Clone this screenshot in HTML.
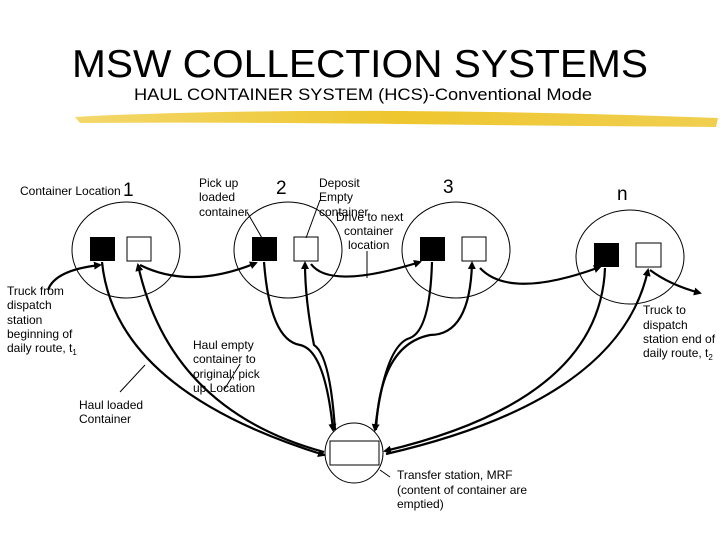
<!DOCTYPE html>
<html><head><style>
body{margin:0;background:#fff;}
svg text{font-family:"Liberation Sans",sans-serif;fill:#000;}
</style></head><body>
<svg width="720" height="540" viewBox="0 0 720 540" xmlns="http://www.w3.org/2000/svg">
<defs>
<marker id="a" markerWidth="8" markerHeight="8" refX="6" refY="4" orient="auto" markerUnits="userSpaceOnUse"><path d="M0,0 L8,4 L0,8 z" fill="#000"/></marker>
<linearGradient id="g" x1="0" x2="1"><stop offset="0" stop-color="#f3d76a"/><stop offset="0.5" stop-color="#eec62e"/><stop offset="1" stop-color="#f0cf50"/></linearGradient>
</defs>
<text x="72" y="77" font-size="39" textLength="576" lengthAdjust="spacingAndGlyphs">MSW  COLLECTION SYSTEMS</text>
<text x="134" y="100" font-size="17" textLength="458" lengthAdjust="spacingAndGlyphs">HAUL  CONTAINER SYSTEM (HCS)-Conventional Mode</text>
<path d="M75,117 Q200,110 400,111 Q560,112 718,118 L716,127 Q560,126 400,124 Q220,122 80,123 z" fill="url(#g)"/>
<g fill="none" stroke="#000" stroke-width="1">
<ellipse cx="126" cy="250" rx="54" ry="48"/>
<ellipse cx="288" cy="250" rx="54" ry="48"/>
<ellipse cx="456" cy="250" rx="54" ry="48"/>
<ellipse cx="630" cy="257" rx="54" ry="47"/>
<ellipse cx="354" cy="453" rx="29" ry="30"/>
<rect x="330" y="441" width="49" height="24"/>
<rect x="127" y="237" width="24" height="24"/>
<rect x="294" y="237" width="24" height="24"/>
<rect x="462" y="237" width="24" height="24"/>
<rect x="636" y="243" width="25" height="24"/>
<line x1="247" y1="212" x2="262" y2="238"/>
<line x1="320" y1="200" x2="306" y2="238"/>
<line x1="367" y1="251" x2="367" y2="278"/>
<line x1="120" y1="392" x2="145" y2="365"/>
<line x1="224" y1="390" x2="240" y2="364"/>
<line x1="380" y1="470" x2="390" y2="477"/>
</g>
<g fill="#000">
<rect x="90" y="237" width="25" height="24"/>
<rect x="252" y="237" width="25" height="24"/>
<rect x="420" y="237" width="25" height="24"/>
<rect x="594" y="243" width="25" height="24"/>
</g>
<g fill="none" stroke="#000" stroke-width="2.2" marker-end="url(#a)">
<path d="M48,290 Q55,270 100,265"/>
<path d="M102,262 Q115,390 324,455"/>
<path d="M324,452 Q170,410 138,265"/>
<path d="M140,265 Q190,290 256,263"/>
<path d="M264,262 Q270,340 300,345 Q325,350 333,430"/>
<path d="M335,430 Q330,355 314,345 Q305,300 305,263"/>
<path d="M311,264 Q330,290 420,262"/>
<path d="M432,262 Q430,330 410,338 Q385,345 375,430"/>
<path d="M376,430 Q380,345 430,335 Q470,335 472,263"/>
<path d="M480,268 Q510,300 600,267"/>
<path d="M605,268 Q600,400 385,451"/>
<path d="M386,454 Q620,400 648,270"/>
<path d="M650,270 Q670,285 700,293"/>
</g>
<g font-size="12">
<text x="20" y="195">Container Location</text>
<text x="123" y="196" font-size="19">1</text>
<text x="199" y="187">Pick up</text><text x="199" y="201">loaded</text><text x="199" y="216">container</text>
<text x="276" y="194" font-size="19">2</text>
<text x="319" y="187">Deposit</text><text x="319" y="201">Empty</text><text x="319" y="216">container</text>
<text x="336" y="221">Drive to next</text><text x="344" y="235">container</text><text x="348" y="249">location</text>
<text x="443" y="193" font-size="19">3</text>
<text x="617" y="200" font-size="19">n</text>
<text x="7" y="295">Truck from</text><text x="7" y="309">dispatch</text><text x="7" y="324">station</text><text x="7" y="338">beginning of</text><text x="7" y="352">daily route, t<tspan font-size="8" dy="3">1</tspan></text>
<text x="193" y="349">Haul empty</text><text x="193" y="363">container  to</text><text x="193" y="378">original; pick</text><text x="193" y="392">up  Location</text>
<text x="79" y="409">Haul loaded</text><text x="79" y="423">Container</text>
<text x="643" y="314">Truck to</text><text x="643" y="329">dispatch</text><text x="643" y="343">station end of</text><text x="643" y="357">daily route, t<tspan font-size="8" dy="3">2</tspan></text>
<text x="397" y="479">Transfer station, MRF</text><text x="397" y="494">(content of container are</text><text x="397" y="508">emptied)</text>
</g>
</svg>
</body></html>
